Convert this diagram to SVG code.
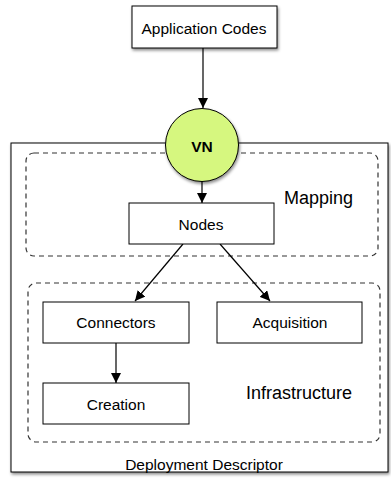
<svg xmlns="http://www.w3.org/2000/svg" width="391" height="479" viewBox="0 0 391 479">
<style>
.box{fill:#fff;stroke:#000;stroke-width:1}
.dash{fill:none;stroke:#333;stroke-width:1.2;stroke-dasharray:5,4}
.t{font-family:"Liberation Sans",Arial,sans-serif;font-size:15.5px;fill:#000;text-anchor:middle}
.lbl{font-family:"Liberation Sans",Arial,sans-serif;font-size:18px;fill:#000}
.c{fill:none;stroke:#000;stroke-width:1.2;marker-end:url(#ah)}
</style>
<defs>
<filter id="sh" x="-10%" y="-10%" width="120%" height="130%">
<feDropShadow dx="1" dy="2" stdDeviation="1.5" flood-color="#000" flood-opacity="0.45"/>
</filter>
<marker id="ah" viewBox="0 0 10 10" refX="10" refY="5" markerWidth="10" markerHeight="10" markerUnits="userSpaceOnUse" orient="auto">
<path d="M0,0 L10,5 L0,10 z" fill="#000"/>
</marker>
</defs>
<g id="deployment-descriptor">
<rect class="box" x="11" y="143" width="377" height="329" filter="url(#sh)"/>
<text class="t" x="204" y="470">Deployment Descriptor</text>
</g>
<g id="mapping">
<rect class="dash" x="26" y="153" width="352" height="103" rx="8"/>
<text class="lbl" x="284" y="204">Mapping</text>
</g>
<g id="infrastructure">
<rect class="dash" x="28" y="283" width="352" height="159" rx="8"/>
<text class="lbl" x="246" y="399">Infrastructure</text>
</g>
<g id="connectors-edges">
<line class="c" x1="203" y1="48" x2="203" y2="108"/>
<line class="c" x1="202" y1="182" x2="202" y2="203"/>
<line class="c" x1="183" y1="244" x2="135" y2="301"/>
<line class="c" x1="220" y1="244" x2="270" y2="301"/>
<line class="c" x1="116" y1="343" x2="116" y2="383"/>
</g>
<g id="application-codes">
<rect class="box" x="132" y="6" width="145" height="42" filter="url(#sh)"/>
<text class="t" x="204" y="34">Application Codes</text>
</g>
<g id="vn">
<circle cx="202" cy="145" r="36.5" fill="#d6f77f" stroke="#000" stroke-width="1" filter="url(#sh)"/>
<text class="t" x="202" y="152" style="font-weight:bold">VN</text>
</g>
<g id="nodes">
<rect class="box" x="129" y="203" width="145" height="41"/>
<text class="t" x="201" y="230">Nodes</text>
</g>
<g id="connectors">
<rect class="box" x="43" y="302" width="146" height="41"/>
<text class="t" x="116" y="328">Connectors</text>
</g>
<g id="acquisition">
<rect class="box" x="217" y="302" width="145" height="41"/>
<text class="t" x="290" y="328">Acquisition</text>
</g>
<g id="creation">
<rect class="box" x="43" y="383" width="146" height="41"/>
<text class="t" x="116" y="410">Creation</text>
</g>
</svg>
